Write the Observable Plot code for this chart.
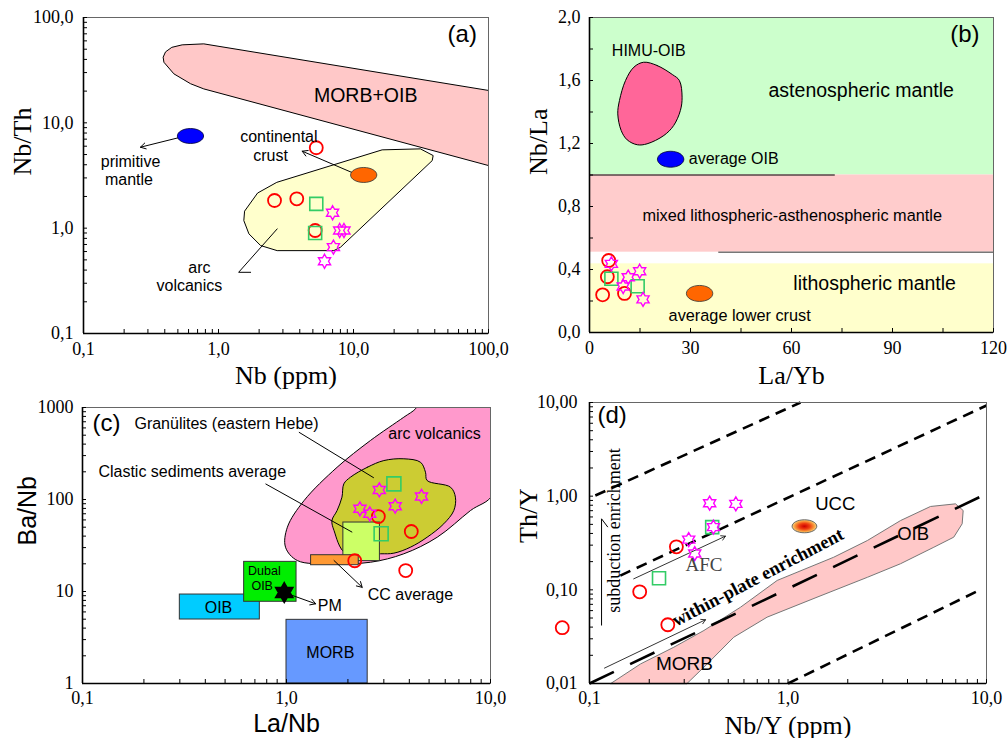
<!DOCTYPE html>
<html><head><meta charset="utf-8">
<script src="https://cdn.jsdelivr.net/npm/d3@7"></script>
<script src="https://cdn.jsdelivr.net/npm/@observablehq/plot@0.6"></script>
<style>
html,body{margin:0;padding:0;background:#fff}
body{width:1007px;height:738px;overflow:hidden;position:relative}
.panel{position:absolute}
.panel svg{overflow:visible;display:block}
</style></head><body>
<div id="pa" class="panel" style="left:0;top:0"></div>
<div id="pb" class="panel" style="left:503px;top:0"></div>
<div id="pc" class="panel" style="left:0;top:390px"></div>
<div id="pd" class="panel" style="left:503px;top:390px"></div>
<script>
// ---------- Panel (a): Nb vs Nb/Th ----------
const aRed = [[5.3,5.8],[2.6,1.83],[3.8,1.9],[5.2,0.95]];
const aGreen = [[5.3,1.70],[5.2,0.90]];
const aStars = [[7.0,1.40],[7.9,0.95],[8.5,0.95],[7.1,0.66],[6.1,0.485]];
const aPrimMantle = [[0.62,7.5]];
const aContCrust = [[11.9,3.2]];
const aMorbOib = [[0.454,52.2],[0.538,55.0],[0.778,56.2],[100,20.3],[100,3.93],[0.778,21.0],[0.621,23.5],[0.467,29.2],[0.394,37.6],[0.389,42.0],[0.404,46.8]];
const aArc = [[2.72,2.73],[16.3,5.54],[31.3,5.66],[38.9,4.89],[38.3,4.38],[8.01,0.659],[7.15,0.612],[2.72,0.612],[2.05,0.684],[1.68,0.883],[1.54,1.18],[1.56,1.45],[1.94,2.14]];
const aArrows = [{x1:0.523,y1:7.3,x2:0.264,y2:5.87},{x1:9.78,y1:3.37,x2:4.17,y2:5.38}];
const aArcLeader = [[2.72,0.984],[1.41,0.381],[1.73,0.381]];
const aTexts = [
  {x:12.3,y:17.9,t:"MORB+OIB",s:19.5},
  {x:2.80,y:7.3,t:"continental",s:16},
  {x:2.43,y:4.86,t:"crust",s:16},
  {x:0.223,y:4.26,t:"primitive",s:16},
  {x:0.217,y:2.88,t:"mantle",s:16},
  {x:0.723,y:0.42,t:"arc",s:16},
  {x:0.609,y:0.283,t:"volcanics",s:16},
  {x:63.9,y:70.0,t:"(a)",s:24}
];
const aTickVals = [0.1,1,10,100];
const aTickLabels = ["0,1","1,0","10,0","100,0"];

// ---------- Panel (b): La/Yb vs Nb/La ----------
const bRed = [[5.7,0.457],[5.3,0.354],[3.9,0.239],[10.4,0.248]];
const bGreen = [[6.5,0.341],[14.3,0.294]];
const bStars = [[6.5,0.436],[11.5,0.351],[10.0,0.292],[14.9,0.389],[15.9,0.21]];
const bZones = [
  {x1:0,x2:120,y1:1.0,y2:2.0,c:"#CCFFCC"},
  {x1:0,x2:120,y1:0.51,y2:1.0,c:"#FFCCCC"},
  {x1:0,x2:120,y1:0,y2:0.436,c:"#FFFFCC"}
];
const bHimu = [[16.1,1.716],[20.1,1.695],[24.6,1.638],[26.7,1.6],[27.5,1.494],[27.0,1.41],[25.0,1.314],[22.1,1.251],[17.1,1.198],[14.2,1.192],[11.2,1.223],[9.4,1.283],[8.4,1.388],[8.9,1.473],[10.7,1.6],[13.2,1.685]];
const bAvgOib = [[24.1,1.10]];
const bLowerCrust = [[32.7,0.248]];
const bTexts = [
  {x:17.6,y:1.786,t:"HIMU-OIB",s:16},
  {x:80.7,y:1.532,t:"astenospheric mantle",s:19.5},
  {x:60.2,y:0.738,t:"mixed lithospheric-asthenospheric mantle",s:16.3},
  {x:84.7,y:0.309,t:"lithospheric mantle",s:19.5},
  {x:44.6,y:0.106,t:"average lower crust",s:16.3},
  {x:111.5,y:1.896,t:"(b)",s:24}
];
const bTextsStart = [{x:29.5,y:1.10,t:"average OIB",s:16}];
const bXTickVals = [0,30,60,90,120];
const bXTickLabels = ["0","30","60","90","120"];
const bXMinor = [15,45,75,105];
const bYTickVals = [0,0.4,0.8,1.2,1.6,2.0];
const bYTickLabels = ["0,0","0,4","0,8","1,2","1,6","2,0"];
const bYMinor = [0.2,0.6,1.0,1.4,1.8];

// ---------- Panel (c): La/Nb vs Ba/Nb ----------
const cRed = [[2.82,65.3],[4.09,44.9],[2.16,21.6],[3.84,16.9]];
const cGreen = [[3.36,148],[2.91,42.4]];
const cStars = [[2.85,127],[2.29,79.2],[2.56,69.9],[3.41,84.6],[4.59,108]];
const cPM = [[0.975,9.75]];
const cArc = [[4.54,1191],[10.6,1191],[10.3,115],[7.98,75.9],[5.48,38.9],[3.76,25.7],[2.58,20.8],[1.64,20.0],[1.13,21.7],[0.989,30.3],[1.01,50.0],[1.22,97.5],[1.77,224],[2.58,438],[3.76,785],[4.29,968]];
const cGran = [[2.06,175],[2.49,224],[3.00,265],[3.76,277],[4.54,254],[4.80,198],[4.89,161],[6.37,136],[6.73,106],[6.61,75.9],[5.90,54.4],[4.89,38.9],[4.05,30.3],[3.36,26.1],[2.89,25.7],[1.95,25.9],[1.71,46.0],[1.67,59.1],[1.77,75.9],[1.87,106],[1.91,148]];
const cBoxes = [
  {x1:0.30,x2:0.74,y1:4.96,y2:9.27,c:"#00CCFF"},
  {x1:0.62,x2:1.12,y1:7.73,y2:21.0,c:"#00EE00"},
  {x1:1.0,x2:2.50,y1:1.0,y2:4.92,c:"#6699FF"},
  {x1:1.90,x2:2.87,y1:21.4,y2:56.2,c:"#CCFF66"},
  {x1:1.32,x2:2.26,y1:19.3,y2:24.8,c:"#FF9933"}
];
const cLeaders = [{x1:1.15,y1:539,x2:2.68,y2:172},{x1:0.789,y1:148,x2:2.10,y2:44.1}];
const cArrows = [{x1:1.71,y1:21.7,x2:2.35,y2:11.1},{x1:0.975,y1:9.75,x2:1.39,y2:7.35}];
const cTexts = [
  {x:0.131,y:665,t:"(c)",s:24},
  {x:0.508,y:665,t:"Granülites (eastern Hebe)",s:16},
  {x:5.32,y:518,t:"arc volcanics",s:16},
  {x:0.345,y:200,t:"Clastic sediments average",s:16},
  {x:0.779,y:16.5,t:"Dubal",s:12.5},
  {x:0.760,y:11.6,t:"OIB",s:12.5},
  {x:0.464,y:6.58,t:"OIB",s:16},
  {x:1.63,y:7.05,t:"PM",s:16},
  {x:4.05,y:9.27,t:"CC average",s:16},
  {x:1.64,y:2.16,t:"MORB",s:16}
];
const cXTickVals = [0.1,1,10];
const cXTickLabels = ["0,1","1,0","10,0"];
const cYTickVals = [1,10,100,1000];
const cYTickLabels = ["1","10","100","1000"];

// ---------- Panel (d): Nb/Y vs Th/Y ----------
const dRed = [[0.0729,0.0394],[0.179,0.0953],[0.274,0.288],[0.248,0.0424]];
const dGreen = [[0.224,0.133],[0.415,0.467]];
const dStars = [[0.403,0.841],[0.546,0.828],[0.421,0.467],[0.316,0.344],[0.339,0.244]];
const dUcc = [[1.21,0.477]];
const dMorbOib = [[0.128,0.01],[0.181,0.0162],[0.266,0.0244],[0.377,0.0368],[0.577,0.0653],[0.882,0.126],[1.70,0.223],[2.51,0.336],[3.69,0.549],[5.22,0.776],[6.98,0.828],[7.63,0.703],[7.54,0.507],[6.84,0.365],[5.43,0.285],[3.69,0.190],[2.51,0.136],[1.40,0.0834],[0.785,0.0511],[0.533,0.0312],[0.392,0.0162],[0.310,0.01]];
const dShortDash = [
  {x1:0.107,y1:1.016,x2:1.156,y2:10},
  {x1:0.143,y1:0.142,x2:10,y2:9.29},
  {x1:1.0,y1:0.01,x2:9.15,y2:0.0985}
];
const dLongDash = [{x1:0.1,y1:0.01,x2:10,y2:1.06}];
const dArrows = [
  {x1:0.167,y1:0.131,x2:0.484,y2:0.374},
  {x1:0.119,y1:0.0146,x2:0.384,y2:0.0479}
];
const dSubShaft = [{x1:0.115,y1:0.0416,x2:0.115,y2:0.573}];
const dSubBarb = [{x1:0.115,y1:0.573,x2:0.1237,y2:0.467}];
const dTextsSans = [
  {x:0.130,y:7.26,t:"(d)",s:24},
  {x:1.73,y:0.828,t:"UCC",s:18.5},
  {x:4.27,y:0.396,t:"OIB",s:18.5},
  {x:0.301,y:0.0162,t:"MORB",s:19}
];
const dTextAfc = [{x:0.377,y:0.185,t:"AFC"}];
const dTextSub = [{x:0.1326,y:0.43,t:"subduction enrichment"}];
const dTextWithin = [{x:0.705,y:0.136,t:"within-plate enrichment"}];
const dXTickVals = [0.1,1,10];
const dXTickLabels = ["0,1","1,0","10,0"];
const dYTickVals = [0.01,0.1,1,10];
const dYTickLabels = ["0,01","0,10","1,00","10,00"];

const minorMult = [2,3,4,5,6,7,8,9];

// ---------- helpers ----------
function logMinor(majors) {
  const out = [];
  for (let i = 0; i < majors.length - 1; i++) for (const m of minorMult) out.push(majors[i] * m);
  return out;
}
const P = d => d[0], Q = d => d[1];
function ellipseSym(aspect) {
  return {draw(ctx, size) {
    const r = Math.sqrt(size / Math.PI), rx = r * aspect, ry = r, k = 0.5523;
    ctx.moveTo(rx, 0);
    ctx.bezierCurveTo(rx, ry * k, rx * k, ry, 0, ry);
    ctx.bezierCurveTo(-rx * k, ry, -rx, ry * k, -rx, 0);
    ctx.bezierCurveTo(-rx, -ry * k, -rx * k, -ry, 0, -ry);
    ctx.bezierCurveTo(rx * k, -ry, rx, -ry * k, rx, 0);
    ctx.closePath();
  }};
}
const hexagram = {draw(ctx, size) {
  const R = Math.sqrt(size / Math.PI), r = R / Math.sqrt(3);
  for (let i = 0; i < 12; i++) {
    const a = -Math.PI / 2 + i * Math.PI / 6, rr = i % 2 ? r : R;
    const x = rr * Math.cos(a), y = rr * Math.sin(a);
    if (i) ctx.lineTo(x, y); else ctx.moveTo(x, y);
  }
  ctx.closePath();
}};
const squareSym = {draw(ctx, size) { const h = Math.sqrt(size / Math.PI); ctx.moveTo(-h,-h); ctx.lineTo(h,-h); ctx.lineTo(h,h); ctx.lineTo(-h,h); ctx.closePath(); }};

const SERIF = "Liberation Serif", SANS = "Liberation Sans";

function samples(red, green, stars, rs) {
  return [
    Plot.dot(red, {x: P, y: Q, r: 6.5, stroke: "#FF0000", strokeWidth: 1.8, fill: "none"}),
    Plot.dot(green, {x: P, y: Q, r: rs || 6.5, symbol: squareSym, stroke: "#33CC66", strokeWidth: 1.6, fill: "none"}),
    Plot.dot(stars, {x: P, y: Q, r: 7, symbol: hexagram, stroke: "#FF00FF", strokeWidth: 1.4, fill: "none"})
  ];
}

function axes(o) {
  const fw = o.width - o.ml - o.mr, fh = o.height - o.mt - o.mb;
  return [
    Plot.frame({stroke: "#666", strokeWidth: 1}),
    Plot.ruleX([o.xd[0]], {stroke: "#000", strokeWidth: 1.6}),
    Plot.ruleY([o.yd[0]], {stroke: "#000", strokeWidth: 1.6}),
    Plot.ruleX(o.xTicks.concat(o.xMinor), {stroke: "#000", strokeWidth: 1, insetTop: fh - 4}),
    Plot.ruleY(o.yTicks.concat(o.yMinor), {stroke: "#000", strokeWidth: 1, insetRight: fw - 4}),
    Plot.text(o.xTicks, {x: d => d, text: (d, i) => o.xLabels[i], frameAnchor: "bottom", dy: o.xdy, fontFamily: SERIF, fontSize: 18, lineAnchor: "middle", fill: "#000"}),
    Plot.text(o.yTicks, {y: d => d, text: (d, i) => o.yLabels[i], frameAnchor: "left", dx: o.ydx, textAnchor: "end", fontFamily: SERIF, fontSize: 18, fill: "#000"}),
    Plot.text([o.xTitle], {frameAnchor: "bottom", dy: o.xtdy, fontFamily: o.tf, fontSize: o.ts, lineAnchor: "middle", fill: "#000"}),
    Plot.text([o.yTitle], {frameAnchor: "left", dx: o.ytdx, rotate: -90, fontFamily: o.tf, fontSize: o.ts, lineAnchor: "middle", fill: "#000"})
  ];
}
function base(o, marks) {
  return Plot.plot({
    width: o.width, height: o.height,
    marginTop: o.mt, marginRight: o.mr, marginBottom: o.mb, marginLeft: o.ml,
    x: {type: o.xt, domain: o.xd, axis: null},
    y: {type: o.yt, domain: o.yd, axis: null},
    style: {fontFamily: SERIF, fontSize: "18px", overflow: "visible", background: "transparent"},
    marks: marks.concat(axes(o))
  });
}
const sansText = (data, extra) => Plot.text(data, {x: "x", y: "y", text: "t", fontSize: d => d.s, fontFamily: SANS, fill: "#000", ...extra});

// ---------- build panel (a) ----------
const oa = {width: 503, height: 390, mt: 17, mr: 15, mb: 57, ml: 83, xt: "log", yt: "log", xd: [0.1, 100], yd: [0.1, 100],
  xTicks: aTickVals, xLabels: aTickLabels, xMinor: logMinor(aTickVals), yTicks: aTickVals, yLabels: aTickLabels, yMinor: logMinor(aTickVals),
  xdy: 16, ydx: -10, xTitle: "Nb (ppm)", yTitle: "Nb/Th", xtdy: 42, ytdx: -61, tf: SERIF, ts: 26};
document.getElementById("pa").append(base(oa, [
  Plot.line(aMorbOib, {x: P, y: Q, curve: "linear-closed", fill: "#FFC8C8", stroke: "#000", strokeWidth: 1}),
  Plot.line(aArc, {x: P, y: Q, curve: "linear-closed", fill: "#FFFFCC", stroke: "#000", strokeWidth: 1}),
  Plot.arrow(aArrows, {x1: "x1", y1: "y1", x2: "x2", y2: "y2", stroke: "#000", strokeWidth: 1, headLength: 9}),
  Plot.line(aArcLeader, {x: P, y: Q, stroke: "#000", strokeWidth: 1}),
  Plot.dot(aPrimMantle, {x: P, y: Q, r: 7.5, symbol: ellipseSym(1.75), fill: "#0000FF", stroke: "#000033", strokeWidth: 0.8}),
  Plot.dot(aContCrust, {x: P, y: Q, r: 7.5, symbol: ellipseSym(1.75), fill: "#FF6600", stroke: "#333", strokeWidth: 0.8}),
  ...samples(aRed, aGreen, aStars),
  sansText(aTexts)
]));

// ---------- build panel (b) ----------
const ob = {width: 504, height: 390, mt: 17, mr: 14, mb: 58, ml: 86, xt: "linear", yt: "linear", xd: [0, 120], yd: [0, 2],
  xTicks: bXTickVals, xLabels: bXTickLabels, xMinor: bXMinor, yTicks: bYTickVals, yLabels: bYTickLabels, yMinor: bYMinor,
  xdy: 16, ydx: -9, xTitle: "La/Yb", yTitle: "Nb/La", xtdy: 43, ytdx: -51, tf: SERIF, ts: 26};
document.getElementById("pb").append(base(ob, [
  Plot.rect(bZones, {x1: "x1", x2: "x2", y1: "y1", y2: "y2", fill: d => d.c}),
  Plot.ruleY([1.0], {x1: 0, x2: 73, stroke: "#000", strokeWidth: 1.2}),
  Plot.ruleY([0.51], {x1: 38.4, x2: 120, stroke: "#777", strokeWidth: 1.5}),
  Plot.line(bHimu, {x: P, y: Q, curve: "catmull-rom-closed", fill: "#FF6699", stroke: "#000", strokeWidth: 1}),
  Plot.dot(bAvgOib, {x: P, y: Q, r: 8, symbol: ellipseSym(1.65), fill: "#0000FF", stroke: "#000033", strokeWidth: 0.8}),
  Plot.dot(bLowerCrust, {x: P, y: Q, r: 8, symbol: ellipseSym(1.65), fill: "#FF6600", stroke: "#333", strokeWidth: 0.8}),
  ...samples(bRed, bGreen, bStars),
  sansText(bTexts),
  sansText(bTextsStart, {textAnchor: "start"})
]));

// ---------- build panel (c) ----------
const oc = {width: 503, height: 348, mt: 17, mr: 13, mb: 55, ml: 82, xt: "log", yt: "log", xd: [0.1, 10], yd: [1, 1000],
  xTicks: cXTickVals, xLabels: cXTickLabels, xMinor: logMinor(cXTickVals), yTicks: cYTickVals, yLabels: cYTickLabels, yMinor: logMinor(cYTickVals),
  xdy: 15, ydx: -9, xTitle: "La/Nb", yTitle: "Ba/Nb", xtdy: 40, ytdx: -55, tf: SANS, ts: 25};
document.getElementById("pc").append(base(oc, [
  Plot.line(cArc, {x: P, y: Q, curve: "catmull-rom-closed", fill: "#FF99CC", stroke: "#000", strokeWidth: 1, clip: true}),
  Plot.line(cGran, {x: P, y: Q, curve: "catmull-rom-closed", fill: "#CCCC33", stroke: "#000", strokeWidth: 1}),
  Plot.rect(cBoxes, {x1: "x1", x2: "x2", y1: "y1", y2: "y2", fill: d => d.c, stroke: "#333", strokeWidth: 1}),
  Plot.link(cLeaders, {x1: "x1", y1: "y1", x2: "x2", y2: "y2", stroke: "#000", strokeWidth: 1}),
  Plot.arrow(cArrows, {x1: "x1", y1: "y1", x2: "x2", y2: "y2", stroke: "#000", strokeWidth: 1, headLength: 9}),
  ...samples(cRed, cGreen, cStars, 7),
  Plot.dot(cPM, {x: P, y: Q, r: 10, symbol: hexagram, fill: "#000", stroke: "#000"}),
  sansText(cTexts)
]));

// ---------- build panel (d) ----------
const od = {width: 504, height: 348, mt: 12, mr: 21, mb: 55, ml: 86, xt: "log", yt: "log", xd: [0.1, 10], yd: [0.01, 10],
  xTicks: dXTickVals, xLabels: dXTickLabels, xMinor: logMinor(dXTickVals), yTicks: dYTickVals, yLabels: dYTickLabels, yMinor: logMinor(dYTickVals),
  xdy: 15, ydx: -12, xTitle: "Nb/Y (ppm)", yTitle: "Th/Y", xtdy: 42, ytdx: -61, tf: SERIF, ts: 26};
document.getElementById("pd").append(base(od, [
  () => {
    const defs = d3.create("svg:defs");
    const g = defs.append("radialGradient").attr("id", "uccGrad");
    g.append("stop").attr("offset", "0%").attr("stop-color", "#CC0000");
    g.append("stop").attr("offset", "45%").attr("stop-color", "#F04010");
    g.append("stop").attr("offset", "80%").attr("stop-color", "#F8A040");
    g.append("stop").attr("offset", "100%").attr("stop-color", "#F8D890");
    return defs.node();
  },
  Plot.line(dMorbOib, {x: P, y: Q, curve: "linear-closed", fill: "#FFC8C8", stroke: "#777", strokeWidth: 1}),
  Plot.link(dShortDash, {x1: "x1", y1: "y1", x2: "x2", y2: "y2", stroke: "#000", strokeWidth: 2.6, strokeDasharray: "11,7"}),
  Plot.link(dLongDash, {x1: "x1", y1: "y1", x2: "x2", y2: "y2", stroke: "#000", strokeWidth: 2.6, strokeDasharray: "27,18"}),
  Plot.arrow(dArrows, {x1: "x1", y1: "y1", x2: "x2", y2: "y2", stroke: "#000", strokeWidth: 0.8, headLength: 9}),
  Plot.link(dSubShaft, {x1: "x1", y1: "y1", x2: "x2", y2: "y2", stroke: "#000", strokeWidth: 1}),
  Plot.link(dSubBarb, {x1: "x1", y1: "y1", x2: "x2", y2: "y2", stroke: "#000", strokeWidth: 1}),
  ...samples(dRed, dGreen, dStars),
  Plot.dot(dUcc, {x: P, y: Q, r: 6.5, symbol: ellipseSym(1.9), fill: "url(#uccGrad)", stroke: "#444", strokeWidth: 0.8}),
  sansText(dTextsSans),
  Plot.text(dTextAfc, {x: "x", y: "y", text: "t", fontSize: 19, fontFamily: SERIF, fill: "#444"}),
  Plot.text(dTextSub, {x: "x", y: "y", text: "t", fontSize: 18, fontFamily: SERIF, fill: "#000", rotate: -90}),
  Plot.text(dTextWithin, {x: "x", y: "y", text: "t", fontSize: 18.5, fontFamily: SERIF, fontWeight: "bold", fill: "#000", rotate: -27.7})
]));
</script>
</body></html>
